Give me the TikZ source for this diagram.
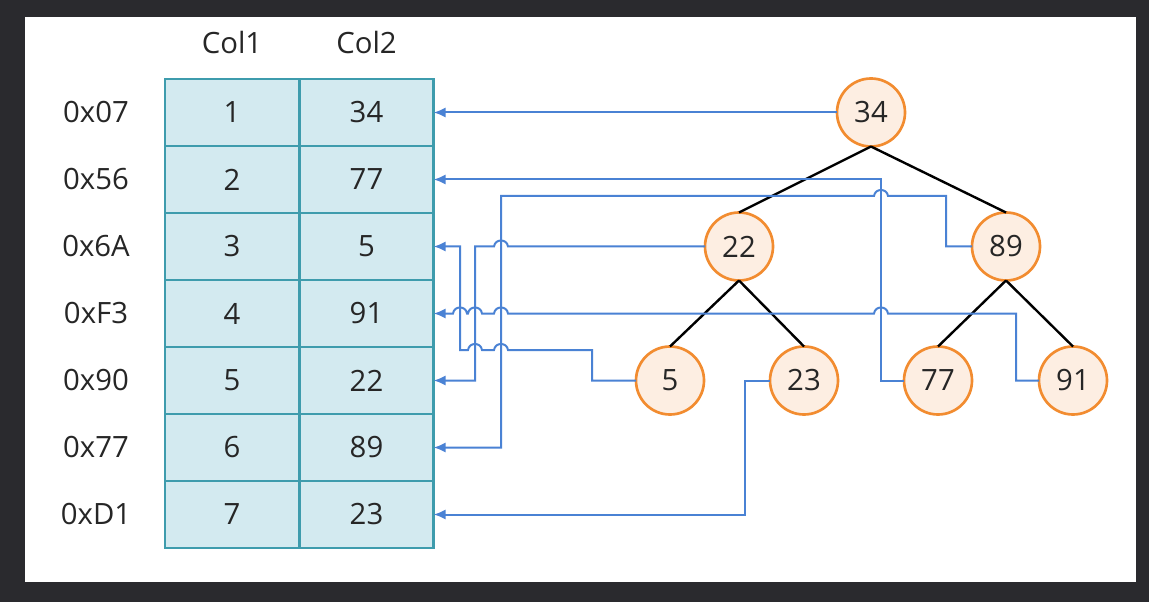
\documentclass[tikz,border=0pt]{standalone}
\usepackage{fontspec}
\setmainfont{Open Sans}
\usetikzlibrary{arrows.meta}

\definecolor{darkbg}{HTML}{2A2A2E}
\definecolor{cellfill}{HTML}{D3EAF0}
\definecolor{cellline}{HTML}{3E9CAD}
\definecolor{keyfill}{HTML}{FDEEE2}
\definecolor{keyline}{HTML}{F28C30}
\definecolor{linkblue}{HTML}{4A82D4}

\begin{document}
\begin{tikzpicture}[x=0.75pt, y=-0.75pt,
    font=\fontsize{22}{26}\selectfont, text=black!85,
    cell/.style={draw=cellline, fill=cellfill, line width=2.2pt, minimum width=100.5pt,
        minimum height=50.25pt, inner sep=0pt, outer sep=0pt},
    key/.style={circle, draw=keyline, fill=keyfill, line width=2pt, minimum size=51pt,
        inner sep=0pt, outer sep=0pt},
    branch/.style={line width=1.8pt, black},
    link/.style={draw=linkblue, line width=1.5pt, -{Latex[length=9pt, width=7.5pt]}},
    hop/.style 2 args={insert path={-- (#1+7,#2) .. controls (#1+6,#2-8) and (#1-6,#2-8) .. (#1-7,#2)}}]
    % frame
    \fill[darkbg] (0,0) rectangle (1149,602);
    \fill[white] (25,17) rectangle (1136,582);

    % table
    \node (h1) at (232,43) {Col1};
    \node (h2) at (366.5,43) {Col2};
    \foreach \i/\addr/\a/\b in {1/0x07/1/34, 2/0x56/2/77, 3/0x6A/3/5, 4/0xF3/4/91,
                                5/0x90/5/22, 6/0x77/6/89, 7/0xD1/7/23}
    {
        \node (a\i) at (96,45.5+67*\i) {\addr};
        \node[cell] (k\i) at (232,45.5+67*\i) {\a};
        \node[cell] (v\i) at (366.5,45.5+67*\i) {\b};
    }

    % tree
    \node[key] (n34) at (871,112.5) {34};
    \node[key] (n22) at (739,246.5) {22};
    \node[key] (n89) at (1006,246.5) {89};
    \node[key] (n5) at (670,380.5) {5};
    \node[key] (n23) at (804,380.5) {23};
    \node[key] (n77) at (938,380.5) {77};
    \node[key] (n91) at (1073,380.5) {91};
    \draw[branch] (n34.south) -- (n22.north);
    \draw[branch] (n34.south) -- (n89.north);
    \draw[branch] (n22.south) -- (n5.north);
    \draw[branch] (n22.south) -- (n23.north);
    \draw[branch] (n89.south) -- (n77.north);
    \draw[branch] (n89.south) -- (n91.north);

    % links back to the rows
    \draw[link] (n34.west) -- (v1.east);
    \draw[link] (n77.west) -- (881,380.5) |- (v2.east);
    \draw[link] (n89.west) -- (946,246.5) -- (946,196) [hop={881}{196}] -- (501,196) |- (v6.east);
    \draw[link] (n22.west) [hop={501}{246.5}] -- (475,246.5) |- (v5.east);
    \draw[link] (n5.west) -- (592,380.5) -- (592,350) [hop={501}{350}] [hop={475}{350}]
        -- (460,350) |- (v3.east);
    \draw[link] (n91.west) -- (1016,380.5) -- (1016,313.5) [hop={881}{313.5}] [hop={501}{313.5}]
        [hop={475}{313.5}] [hop={460}{313.5}] -- (v4.east);
    \draw[link] (n23.west) -- (745,380.5) |- (v7.east);
\end{tikzpicture}
\end{document}
